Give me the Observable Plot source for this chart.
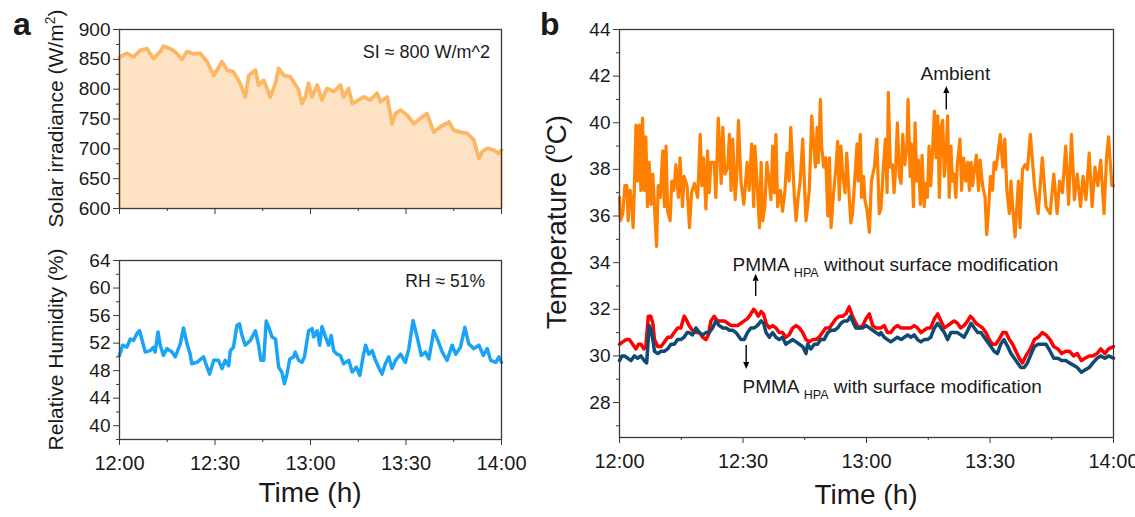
<!DOCTYPE html>
<html><head><meta charset="utf-8">
<script src="https://cdn.jsdelivr.net/npm/d3@7"></script>
<script src="https://cdn.jsdelivr.net/npm/@observablehq/plot@0.6"></script>
<style>
html,body{margin:0;padding:0;background:#fff;}
#fig{position:relative;width:1135px;height:517px;overflow:hidden;}
</style></head><body><div id="fig"></div>
<script>
// ---------- x axis (minutes after 12:00) ----------
const xTickValues = [0, 30, 60, 90, 120];
const xTickLabels = ["12:00", "12:30", "13:00", "13:30", "14:00"];
const xMinorValues = [15, 45, 75, 105];

// ---------- panel a (top): solar irradiance ----------
const siMin = [0,2.3,4.4,6.5,8.6,10.7,12.8,13.8,15.9,18.0,19.6,21.2,23.3,25.4,27.5,29.6,32.2,33.8,35.8,37.9,39.5,40.6,42.7,43.7,45.3,47.4,49.0,50.0,51.6,53.7,54.7,56.3,57.3,58.4,59.4,60.5,62.1,63.6,65.2,67.3,69.4,70.4,72.0,73.1,75.2,76.7,78.8,80.9,82.0,84.1,85.6,86.7,88.3,90.4,92.5,94.5,96.6,98.7,100.8,103.5,105.0,107.1,109.2,111.3,112.9,113.9,115.5,117.6,119.2,120];
const siVal = [854,860,854,865,868,851,863,872,868,860,850,863,859,860,846,823,846,832,829,810,787,823,832,807,815,787,810,835,823,821,812,798,776,787,810,787,807,782,801,796,807,787,801,776,782,787,782,793,779,787,742,759,765,756,742,751,759,728,737,745,731,728,726,715,684,695,701,698,692,698];
const siTicks = [600, 650, 700, 750, 800, 850, 900];
const siMinor = [625, 675, 725, 775, 825, 875];

// ---------- panel a (bottom): relative humidity ----------
const rhMin = [0,1.0,2.3,3.4,4.4,5.5,6.3,7.0,8.1,9.6,10.7,11.2,12.1,12.8,13.8,14.9,16.5,17.5,19.1,20.1,21.2,22.2,22.7,24.3,26.4,27.5,28.3,29.6,31.1,32.2,33.2,34.3,34.8,35.8,36.9,37.7,38.5,39.5,41.1,42.7,43.7,44.4,45.3,46.1,46.9,47.9,49.0,50.0,51.0,51.8,52.6,53.5,54.7,55.2,56.3,57.3,58.1,59.4,60.5,61.0,62.1,62.9,63.6,64.7,65.7,66.5,67.3,68.3,69.4,70.4,72.0,73.1,74.4,75.5,76.5,77.3,78.3,79.4,80.4,81.4,82.5,83.5,84.6,85.6,86.7,88.3,89.8,90.9,92.2,93.5,94.8,96.1,97.2,98.7,100.0,101.4,102.9,104.5,105.6,107.1,108.5,109.7,111.3,112.9,114.3,115.5,116.6,118.2,119.2,120];
const rhVal = [50.2,51.7,51.4,52.6,52.4,53.4,53.8,52.6,50.7,50.9,51.4,50.7,53.6,51.7,50.2,51.2,50.7,50.0,51.9,54.2,51.9,50.4,49.0,49.2,50.0,48.5,47.5,49.5,49.5,48.3,49.5,48.7,50.9,51.4,54.6,54.8,53.1,51.7,52.4,53.8,51.7,49.5,49.5,55.2,54.3,52.9,52.6,48.5,47.8,46.1,47.5,49.7,50.0,50.7,49.5,49.2,50.0,53.8,54.1,52.9,53.8,51.7,54.4,52.9,51.7,53.1,50.9,50.4,50.2,49.0,49.5,47.8,48.5,47.3,50.0,51.7,50.4,50.9,49.5,48.5,47.5,49.0,50.0,48.3,49.5,50.4,49.2,51.2,55.3,52.9,50.2,50.7,49.7,53.8,52.4,50.7,49.5,51.7,50.4,51.4,54.3,51.9,51.2,51.7,50.2,51.2,49.5,49.2,50.0,49.2];
const rhTicks = [40, 44, 48, 52, 56, 60, 64];
const rhMinor = [38, 42, 46, 50, 54, 58, 62];

// ---------- panel b: temperatures ----------
const ambMin = [0,0.2,0.8,1.3,1.8,2.1,2.6,3.0,3.3,3.6,4.0,4.4,4.8,5.2,5.6,6.0,6.4,6.8,7.2,7.7,8.1,8.5,9.0,9.4,9.9,10.5,10.9,11.3,11.7,12.3,12.7,13.2,13.7,14.3,14.7,15.3,15.7,16.4,17.0,17.5,18.2,19.0,19.6,20.0,20.4,21.0,21.4,21.8,22.2,23.0,23.4,24.0,24.7,25.1,25.6,26.3,26.7,27.1,27.5,28.1,28.5,28.9,29.5,30.2,
 31.0,31.5,32.1,32.6,32.9,33.4,34.0,34.4,34.8,35.3,35.8,36.4,36.8,37.2,37.6,38.0,38.4,39.1,39.6,40.2,40.7,41.2,41.6,42.1,42.5,42.9,43.4,43.9,44.5,44.9,45.3,45.7,46.1,46.7,47.2,47.6,48.0,48.3,48.8,49.1,49.6,50.1,50.6,51.0,51.4,52.0,52.6,53.0,53.4,53.8,54.2,54.8,55.2,55.8,56.2,56.6,57.2,57.7,58.0,58.5,58.8,59.3,59.6,60.1,60.7,61.2,61.9,62.5,63.1,
 63.5,64.1,64.6,65.0,65.3,65.8,66.3,66.7,67.1,67.5,68.0,68.4,68.8,69.3,69.8,70.1,70.6,70.9,71.4,71.8,72.2,72.6,73.1,73.5,74.0,74.4,74.8,75.2,75.6,76.1,76.5,76.9,77.3,77.7,78.1,78.5,78.9,79.3,79.7,80.1,80.5,80.9,81.3,81.7,82.1,82.7,83.1,83.6,84.1,84.6,85.0,85.4,85.8,86.2,86.7,87.2,87.6,88.2,88.8,89.2,89.7,90.1,90.6,91.0,91.4,91.8,92.5,93.1,93.6,94.1,94.7,95.1,95.5,96.1,96.5,96.9,97.3,97.9,98.5,99.1,
 99.8,100.8,101.7,102.7,103.6,104.6,105.5,106.3,106.9,107.6,108.4,109.1,109.8,110.5,111.2,112.0,112.6,113.3,114.1,114.8,115.5,116.2,116.9,117.7,118.3,118.8,119.6,120];
const ambVal = [36.8,35.8,36.1,37.3,37.3,35.8,37.1,36.5,35.5,37.1,39.9,37.5,39.9,37.1,40.2,37.1,39.4,36.4,38.3,36.5,37.8,36.4,34.7,37.3,36.8,38.8,36.4,39.0,36.2,35.8,37.5,37.1,38.2,36.8,38.5,36.4,37.7,37.3,35.5,37.0,37.4,36.8,39.5,37.3,38.5,36.3,38.8,37.0,38.3,38.3,36.8,40.2,37.4,39.8,37.8,38.1,39.5,37.1,39.3,36.7,37.8,40.1,37.5,36.5,
 38.3,37.1,39.1,36.4,39.0,37.5,35.5,38.3,35.8,36.4,38.3,37.4,36.7,39.0,37.0,39.5,36.4,37.1,36.2,37.1,38.7,37.5,39.8,38.1,36.8,35.8,36.8,37.5,39.3,37.5,35.8,36.4,37.1,40.3,39.0,38.1,39.8,38.3,41.0,39.0,38.1,38.5,36.0,38.5,35.5,37.0,38.1,39.2,36.7,39.0,37.8,37.0,38.7,36.8,35.7,36.1,37.7,39.1,37.5,39.5,36.8,37.7,36.7,36.3,35.3,37.5,38.1,39.3,36.1,
 36.3,38.1,39.3,37.0,41.3,38.1,38.2,37.0,38.1,40.0,37.7,37.4,39.5,38.2,39.0,41.0,37.7,39.1,36.4,40.0,37.5,38.4,36.5,38.6,36.4,37.4,36.8,39.0,37.3,39.0,40.5,38.5,40.3,36.8,39.8,40.1,37.7,38.5,40.3,36.8,39.0,37.5,37.8,36.8,38.3,39.3,37.1,38.5,37.5,38.3,37.1,38.3,37.3,38.0,38.6,37.1,38.4,37.3,36.8,35.2,36.4,37.7,37.1,38.3,38.0,38.5,39.5,38.1,39.3,37.1,36.1,37.5,36.4,35.1,36.3,37.5,35.5,38.0,38.2,38.0,
 39.5,37.3,36.1,38.5,36.4,36.1,37.8,36.1,37.5,37.0,39.0,36.5,39.5,36.7,37.8,36.4,37.7,36.7,38.7,36.4,38.1,37.3,38.4,36.1,38.5,39.4,37.3,37.3];

const redMin = [0,0.8,1.6,2.4,3.2,4.0,4.6,5.2,5.9,6.4,7.0,7.6,8.1,8.5,9.3,10.1,10.9,11.7,12.5,13.3,14.1,14.9,15.7,16.4,16.9,17.7,18.6,19.4,20.2,21.0,21.6,22.2,23.0,23.8,24.7,25.5,26.3,27.1,27.9,28.7,
 29.5,30.3,31.1,31.9,32.6,33.1,33.7,34.4,35.0,35.6,36.4,37.2,38.0,38.8,39.6,40.4,41.2,42.1,42.9,43.7,44.5,45.3,46.1,46.9,47.7,48.5,49.3,50.1,51.0,51.8,52.6,53.4,54.2,55.0,55.8,56.6,57.4,58.2,59.1,59.9,60.7,61.5,62.3,63.1,
 63.5,64.3,65.1,65.9,66.7,67.5,68.4,69.2,70.0,70.8,71.6,72.4,73.2,74.0,74.8,75.6,76.5,77.3,78.1,78.9,79.7,80.5,81.3,82.1,82.9,83.7,84.6,85.2,85.8,86.6,87.4,88.2,89.0,89.8,90.6,91.4,92.2,93.1,93.9,94.7,95.5,96.3,97.1,97.9,98.7,
 99.8,100.8,101.7,102.7,103.6,104.6,105.5,106.5,107.4,108.4,109.3,110.3,111.2,112.2,113.1,114.1,115.0,116.0,116.9,117.9,118.8,120];
const redVal = [30.5,30.6,30.7,30.7,30.5,30.3,30.5,30.5,30.3,30.4,31.7,31.7,31.4,30.7,30.4,30.4,30.6,30.8,30.8,31.0,31.2,31.2,31.7,31.5,31.3,31.1,31.0,31.0,30.8,30.7,30.9,31.5,31.7,31.5,31.5,31.5,31.4,31.3,31.3,31.3,
 31.4,31.5,31.6,31.8,32.0,31.9,31.7,31.9,31.8,31.4,31.2,31.3,31.2,31.0,31.0,30.8,30.9,31.2,31.3,31.2,31.0,30.7,30.6,30.7,30.7,30.8,31.0,31.2,31.2,31.4,31.6,31.7,31.7,31.8,32.1,31.7,31.4,31.2,31.3,31.6,31.8,31.3,31.2,31.2,
 31.2,31.3,31.0,31.0,31.2,31.3,31.2,31.2,31.2,31.2,31.3,31.2,31.0,31.1,31.2,31.2,31.6,31.8,31.5,31.2,31.3,31.4,31.5,31.4,31.2,31.3,31.5,31.7,31.6,31.4,31.3,31.2,31.0,30.7,30.5,30.5,30.7,31.0,31.0,30.7,30.5,30.2,29.9,29.7,30.0,
 30.3,30.7,30.8,31.0,30.9,30.7,30.4,30.3,30.1,30.2,30.2,30.0,30.1,29.8,29.9,30.0,30.0,30.1,30.3,30.1,30.3,30.4];

const blueMin = [0,0.6,1.2,2.0,2.8,3.6,4.4,5.2,6.0,6.6,7.2,7.7,8.1,8.5,9.3,10.1,10.9,11.7,12.5,13.3,14.1,14.9,15.7,16.4,16.9,17.7,18.6,19.4,20.2,21.0,21.8,22.6,23.4,24.2,25.1,25.9,26.7,27.5,28.3,
 29.5,30.3,31.1,31.9,32.7,33.5,34.4,35.0,35.6,36.4,37.2,38.0,38.8,39.6,40.4,41.2,42.1,42.9,43.7,44.5,45.3,45.7,46.5,47.3,48.1,48.9,49.7,50.6,51.4,52.2,53.0,53.8,54.6,55.4,56.1,56.6,57.4,58.2,59.1,59.9,60.7,61.5,62.3,63.1,
 63.5,64.3,65.1,65.9,66.7,67.5,68.4,69.2,70.0,70.8,71.6,72.4,73.2,74.0,74.8,75.6,76.5,77.3,78.1,78.9,79.7,80.5,81.3,82.1,82.9,83.7,84.6,85.4,86.2,87.0,87.8,88.6,89.4,90.2,91.0,91.8,92.6,93.4,94.3,95.1,95.9,96.7,97.5,98.3,99.1,
 99.8,100.8,101.7,102.7,103.6,104.6,105.5,106.5,107.4,108.4,109.3,110.3,111.2,112.2,113.1,114.1,115.0,116.0,116.9,117.9,118.8,120];
const blueVal = [29.8,30.0,30.0,29.9,29.8,30.0,29.9,30.0,29.8,29.7,31.3,31.1,30.7,30.2,30.1,30.2,30.2,30.3,30.5,30.5,30.7,30.7,30.8,31.0,31.0,30.9,31.2,31.0,30.9,31.0,31.0,31.2,31.5,31.3,31.2,31.2,31.1,31.1,31.0,
 30.7,30.7,31.0,31.2,31.2,31.3,31.5,31.4,31.0,30.8,31.0,30.8,30.7,30.8,30.5,30.6,30.7,30.6,30.5,30.4,30.1,30.5,30.3,30.5,30.5,30.7,30.7,31.0,31.1,31.1,31.2,31.4,31.5,31.5,31.7,31.5,31.2,31.2,31.2,31.3,31.2,31.1,31.0,30.9,
 31.0,30.8,30.7,30.6,30.7,30.8,30.7,30.8,30.9,30.8,30.9,30.7,30.6,30.7,30.7,30.8,31.2,31.4,31.2,31.0,30.7,31.0,31.0,31.0,30.9,30.8,31.1,31.4,31.2,31.0,31.0,30.8,30.6,30.4,30.2,30.1,30.5,30.7,30.4,30.1,29.9,29.7,29.5,29.5,29.7,
 30.0,30.4,30.5,30.5,30.5,30.2,29.9,29.9,29.8,29.8,29.7,29.6,29.5,29.3,29.4,29.5,29.7,29.9,30.0,29.9,30.0,29.9];
const tTicks = [28, 30, 32, 34, 36, 38, 40, 42, 44];
const tMinor = [27, 29, 31, 33, 35, 37, 39, 41, 43];

// annotation anchors, in data units (minutes, °C)
const ambientNote = {t: 81.7, v: 41.8};
const arrows = [
  {t: 79.5, from: 40.55, to: 41.55},
  {t: 33.2, from: 32.55, to: 33.5},
  {t: 30.9, from: 30.45, to: 29.42}
];
const withoutNote = {t: 27.6, v: 33.6};
const withNote = {t: 30.0, v: 28.37};

// ---------- helpers ----------
const FONT = '"Liberation Sans", Arial, Helvetica, sans-serif';
const FRAME = "#3a3a3a";
const TXT = "#1a1a1a";
const zip = (ts, vs) => ts.map((t, i) => ({t, v: vs[i]}));
const xFmt = d => xTickLabels[xTickValues.indexOf(d)];
const blank = () => "";
const svgStyle = `position:absolute;left:0px;top:0px;background:transparent;overflow:visible;max-width:none;font-family:${FONT};`;

function rich(svg, {x, y, size, anchor = "start", rotate = 0, weight = "normal", parts}) {
  const t = d3.select(svg).append("text")
    .attr("transform", `translate(${x},${y})` + (rotate ? ` rotate(${rotate})` : ""))
    .attr("font-size", size).attr("font-family", FONT).attr("font-weight", weight)
    .attr("text-anchor", anchor).attr("fill", TXT);
  let shift = 0;
  for (const p of parts) {
    const [s, kind] = typeof p === "string" ? [p, null] : p;
    const target = kind === "sup" ? -size * 0.38 : kind === "sub" ? size * 0.3 : 0;
    const ts = t.append("tspan").text(s).attr("dy", target - shift);
    if (kind) ts.attr("font-size", size * 0.66);
    shift = target;
  }
}

function yAxes(ticks, minor) {
  return [
    Plot.axisY({ticks, tickSize: 6, tickPadding: 3, fontSize: 19, label: null, color: TXT, stroke: FRAME}),
    Plot.axisY({ticks: minor, tickSize: 3, tickFormat: blank, label: null, stroke: FRAME})
  ];
}
function xAxes(withLabels) {
  return [
    Plot.axisX({ticks: xTickValues, tickSize: 6, tickPadding: 10, fontSize: 20, label: null,
                tickFormat: withLabels ? xFmt : blank, color: TXT, stroke: FRAME}),
    Plot.axisX({ticks: xMinorValues, tickSize: 3, tickFormat: blank, label: null, stroke: FRAME})
  ];
}

const fig = document.getElementById("fig");
const W = 1135, H = 517;

// ---------- panel a top ----------
const siData = zip(siMin, siVal);
const pSI = Plot.plot({
  width: W, height: H, marginLeft: 119, marginRight: W - 501, marginTop: 29, marginBottom: H - 208,
  style: svgStyle,
  x: {domain: [0, 120]}, y: {domain: [600, 900]},
  marks: [
    Plot.areaY(siData, {x: "t", y1: 600, y2: "v", fill: "#fde3c4"}),
    Plot.ruleX([siData[0], siData[siData.length - 1]], {x: "t", y1: 600, y2: "v", stroke: "#fcb664", strokeWidth: 2}),
    Plot.lineY(siData, {x: "t", y: "v", stroke: "#fcb664", strokeWidth: 3.8, strokeLinejoin: "round"}),
    Plot.frame({stroke: FRAME, strokeWidth: 1.3}),
    ...yAxes(siTicks, siMinor),
    ...xAxes(false)
  ]
});
fig.appendChild(pSI);

// ---------- panel a bottom ----------
const rhData = zip(rhMin, rhVal);
const pRH = Plot.plot({
  width: W, height: H, marginLeft: 119, marginRight: W - 501, marginTop: 260, marginBottom: H - 439,
  style: svgStyle,
  x: {domain: [0, 120]}, y: {domain: [38, 64]},
  marks: [
    Plot.lineY(rhData, {x: "t", y: "v", stroke: "#1aa3f7", strokeWidth: 3.5, strokeLinejoin: "round"}),
    Plot.frame({stroke: FRAME, strokeWidth: 1.3}),
    ...yAxes(rhTicks, rhMinor),
    ...xAxes(true)
  ]
});
fig.appendChild(pRH);

// ---------- panel b ----------
const pT = Plot.plot({
  width: W, height: H, marginLeft: 619, marginRight: W - 1113, marginTop: 29, marginBottom: H - 437,
  style: svgStyle,
  x: {domain: [0, 120]}, y: {domain: [26.5, 44]},
  marks: [
    Plot.lineY(zip(ambMin, ambVal), {x: "t", y: "v", stroke: "#ff8000", strokeWidth: 3.2, strokeLinejoin: "round"}),
    Plot.lineY(zip(redMin, redVal), {x: "t", y: "v", stroke: "#ff0000", strokeWidth: 3.5, strokeLinejoin: "round"}),
    Plot.lineY(zip(blueMin, blueVal), {x: "t", y: "v", stroke: "#0e4a72", strokeWidth: 3.5, strokeLinejoin: "round"}),
    Plot.frame({stroke: FRAME, strokeWidth: 1.3}),
    ...yAxes(tTicks, tMinor),
    ...xAxes(true)
  ]
});
fig.appendChild(pT);

// ---------- titles & annotations ----------
const midY = p => { const r = p.scale("y").range; return (r[0] + r[1]) / 2; };
const midX = p => { const r = p.scale("x").range; return (r[0] + r[1]) / 2; };

rich(pSI, {x: 63, y: midY(pSI), size: 21, anchor: "middle", rotate: -90,
  parts: ["Solar irradiance (W/m", ["2", "sup"], ")"]});
rich(pSI, {x: 490, y: 58, size: 18, anchor: "end", parts: ["SI \u2248 800 W/m^2"]});
rich(pSI, {x: 13, y: 35, size: 32, weight: "bold", parts: ["a"]});

rich(pRH, {x: 63, y: midY(pRH), size: 21, anchor: "middle", rotate: -90,
  parts: ["Relative Humidity (%)"]});
rich(pRH, {x: 485, y: 287, size: 17.5, anchor: "end", parts: ["RH \u2248 51%"]});
rich(pRH, {x: midX(pRH), y: 502, size: 28, anchor: "middle", parts: ["Time (h)"]});

rich(pT, {x: 540, y: 35, size: 32, weight: "bold", parts: ["b"]});
rich(pT, {x: 566, y: 222, size: 28, anchor: "middle", rotate: -90,
  parts: ["Temperature (", ["o", "sup"], "C)"]});
rich(pT, {x: midX(pT), y: 504, size: 28, anchor: "middle", parts: ["Time (h)"]});

const sx = pT.scale("x"), sy = pT.scale("y");
rich(pT, {x: sx.apply(ambientNote.t), y: sy.apply(ambientNote.v), size: 19, anchor: "middle", parts: ["Ambient"]});
rich(pT, {x: sx.apply(withoutNote.t), y: sy.apply(withoutNote.v), size: 19,
  parts: ["PMMA ", ["HPA", "sub"], " without surface modification"]});
rich(pT, {x: sx.apply(withNote.t), y: sy.apply(withNote.v), size: 19,
  parts: ["PMMA ", ["HPA", "sub"], " with surface modification"]});

const ga = d3.select(pT).append("g").attr("fill", "#000").attr("stroke", "#000");
for (const a of arrows) {
  const x = sx.apply(a.t), y0 = sy.apply(a.from), y1 = sy.apply(a.to);
  const dir = Math.sign(y1 - y0), head = 7, half = 3;
  ga.append("line").attr("x1", x).attr("x2", x).attr("y1", y0).attr("y2", y1 - dir * head)
    .attr("stroke-width", 1.4);
  ga.append("path").attr("stroke", "none")
    .attr("d", `M${x},${y1}L${x - half},${y1 - dir * head}L${x + half},${y1 - dir * head}Z`);
}
</script>
</body></html>
